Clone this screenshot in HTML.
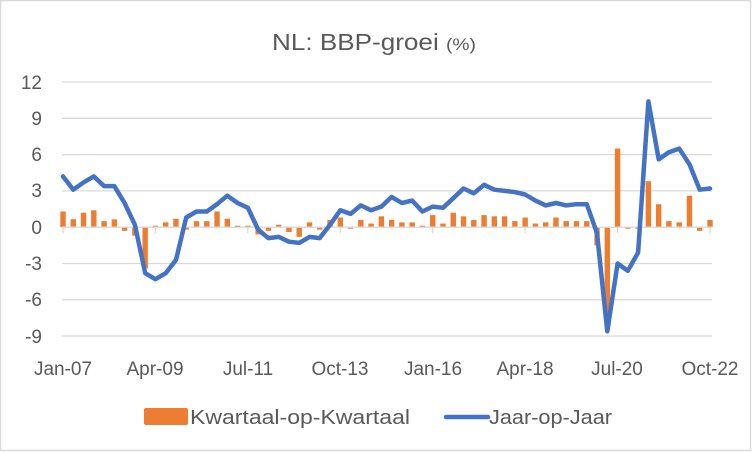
<!DOCTYPE html>
<html><head><meta charset="utf-8"><style>
html,body{margin:0;padding:0;background:#fff;}
svg{display:block;font-family:"Liberation Sans",Calibri,sans-serif;}
</style></head><body>
<svg id="c" width="752" height="452" viewBox="0 0 752 452" xmlns="http://www.w3.org/2000/svg">
<rect x="0.5" y="0.5" width="750" height="450" fill="#fff" stroke="#d9d9d9" stroke-width="1.5"/>
<text x="272" y="50" font-size="23" fill="#595959" textLength="204" lengthAdjust="spacingAndGlyphs">NL: BBP-groei <tspan font-size="17">(%)</tspan></text>
<g stroke="#d9d9d9" stroke-width="1.3">
<line x1="62" x2="712" y1="82" y2="82"/><line x1="62" x2="712" y1="118.3" y2="118.3"/>
<line x1="62" x2="712" y1="154.6" y2="154.6"/><line x1="62" x2="712" y1="190.9" y2="190.9"/>
<line x1="62" x2="712" y1="263.5" y2="263.5"/><line x1="62" x2="712" y1="299.8" y2="299.8"/>
<line x1="62" x2="712" y1="336" y2="336"/>
</g>
<g font-size="19" fill="#595959" text-anchor="end">
<text x="42" y="89">12</text><text x="42" y="125">9</text><text x="42" y="161">6</text>
<text x="42" y="197">3</text><text x="42" y="234">0</text><text x="42" y="270">-3</text>
<text x="42" y="306">-6</text><text x="42" y="343">-9</text>
</g>
<g font-size="19" fill="#595959" text-anchor="middle">
<text x="63" y="375">Jan-07</text><text x="155" y="375">Apr-09</text><text x="248" y="375">Jul-11</text>
<text x="340" y="375">Oct-13</text><text x="433" y="375">Jan-16</text><text x="525" y="375">Apr-18</text>
<text x="617" y="375">Jul-20</text><text x="710" y="375">Oct-22</text>
</g>
<g id="bars" fill="#ed7d31"></g>
<g id="ax"></g>
<polyline id="ln" fill="none" stroke="#4472c4" stroke-width="4.5" stroke-linejoin="round" stroke-linecap="round"/>
<rect x="144" y="408" width="44" height="17" rx="2" fill="#ed7d31"/>
<text x="190" y="424" font-size="20" fill="#595959" textLength="220" lengthAdjust="spacingAndGlyphs">Kwartaal-op-Kwartaal</text>
<line x1="446" x2="488" y1="417" y2="417" stroke="#4472c4" stroke-width="4.5" stroke-linecap="round"/>
<text x="489" y="424" font-size="20" fill="#595959" textLength="123" lengthAdjust="spacingAndGlyphs">Jaar-op-Jaar</text>
</svg>
<script>
var yoy=[4.2,3.1,3.7,4.2,3.4,3.4,2.0,0.2,-3.8,-4.3,-3.8,-2.7,0.8,1.3,1.3,1.9,2.6,2.0,1.6,-0.2,-0.9,-0.8,-1.2,-1.3,-0.8,-0.9,0.2,1.4,1.1,1.8,1.4,1.7,2.5,2.0,2.2,1.3,1.7,1.6,2.4,3.2,2.8,3.5,3.1,3.0,2.9,2.7,2.2,1.8,2.0,1.8,1.9,1.9,-0.5,-8.6,-3.0,-3.6,-2.1,10.4,5.6,6.2,6.5,5.2,3.1,3.2];
var qoq=[1.3,0.66,1.2,1.4,0.5,0.65,-0.3,-0.7,-3.4,0.1,0.4,0.7,-0.2,0.5,0.5,1.3,0.7,0.1,0.0,-0.6,-0.3,0.2,-0.4,-0.8,0.4,-0.2,0.6,0.8,-0.1,0.6,0.3,0.9,0.6,0.4,0.4,0.1,1.0,0.3,1.2,0.9,0.6,1.0,0.9,0.9,0.5,0.8,0.3,0.4,0.8,0.5,0.5,0.5,-1.5,-7.4,6.5,-0.1,-0.1,3.8,1.9,0.5,0.4,2.6,-0.3,0.6];
var x0=63,dx=647/63,z=227.2,u=12.1,ns="http://www.w3.org/2000/svg";
var b=document.getElementById('bars'),pts=[];
for(var i=0;i<64;i++){var x=x0+i*dx,v=qoq[i],r=document.createElementNS(ns,'rect');
r.setAttribute('x',x-2.7);r.setAttribute('width',5.4);
var h=Math.max(Math.abs(v)*u,1.5);r.setAttribute('y',v>=0?z-h:z);r.setAttribute('height',h);b.appendChild(r);
pts.push(x.toFixed(1)+','+(z-yoy[i]*u).toFixed(1));}
document.getElementById('ln').setAttribute('points',pts.join(' '));
var ax=document.getElementById('ax'),s='<line x1="62" x2="712" y1="'+z+'" y2="'+z+'" stroke="#d9d9d9" stroke-width="1.3"/>';
for(var k=0;k<8;k++){var tx=x0+k*9*dx;s+='<line x1="'+tx+'" x2="'+tx+'" y1="'+z+'" y2="'+(z+6)+'" stroke="#d9d9d9" stroke-width="1.3"/>';}
ax.innerHTML=s;
</script>
</body></html>
